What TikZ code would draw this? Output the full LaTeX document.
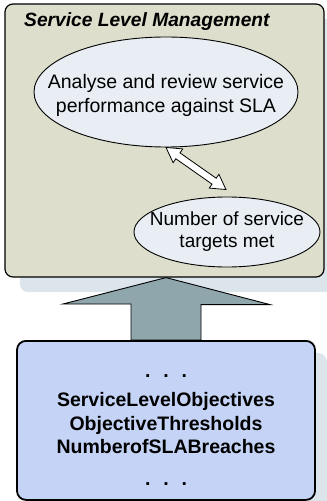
\documentclass[tikz,border=0pt]{standalone}
\usepackage{fontspec}
\setmainfont{Liberation Sans}
\usetikzlibrary{shapes.geometric,shapes.arrows,shadows,calc}

\definecolor{panelfill}{RGB}{222,222,204}
\definecolor{shadowfill}{RGB}{220,228,236}
\definecolor{bubblefill}{RGB}{232,238,244}
\definecolor{sourcefill}{RGB}{197,212,246}
\definecolor{flowfill}{RGB}{143,166,172}

\tikzset{
  panel/.style={draw, line width=1.2bp, rounded corners=8bp, fill=panelfill,
    inner sep=0pt, minimum width=319bp, minimum height=273bp,
    general shadow={fill=shadowfill, shadow xshift=15bp, shadow yshift=-15bp}},
  source/.style={draw, line width=1.8bp, rounded corners=9bp, fill=sourcefill,
    inner sep=0pt, minimum width=298bp, minimum height=159bp,
    general shadow={fill=shadowfill, shadow xshift=12bp, shadow yshift=-12bp}},
  bubble/.style={ellipse, draw, line width=0.9bp, fill=bubblefill, inner sep=0pt},
  bubbletext/.style={align=center, inner sep=0pt,
    font=\fontsize{19.5bp}{24bp}\selectfont},
  smalltext/.style={align=center, inner sep=0pt,
    font=\fontsize{19bp}{22bp}\selectfont},
  heading/.style={inner sep=0pt, font=\fontsize{19.2bp}{22bp}\selectfont\bfseries\itshape},
  fieldtext/.style={inner sep=0pt, font=\fontsize{19.5bp}{23.5bp}\selectfont\bfseries},
  link/.style={double arrow, draw, fill=white, line width=0.8bp,
    inner xsep=0pt, inner ysep=3.2bp, double arrow head extend=4.8bp,
    double arrow tip angle=60},
  flow/.style={draw, line width=0.9bp, fill=flowfill, line join=miter}
}

\begin{document}
\begin{tikzpicture}[x=1bp, y=-1bp]
\useasboundingbox (0,0) rectangle (326,501);

% Service Level Management panel
\node[panel] (slm) at (164.5,140.5) {};
\node[heading, anchor=base west] (ttl) at (24,26.5) {Service Level Management};

% activity and measure
\node[bubble, minimum width=264bp, minimum height=110bp] (ana) at (166,92) {};
\node[bubbletext] (anatxt) at ($(ana.center)+(0,3)$)
  {Analyse and review service\\performance against SLA};
\node[bubble, minimum width=186bp, minimum height=70bp] (tgt) at (227,232) {};
\node[smalltext] (tgttxt) at (tgt.center) {Number of service\\targets met};

% two-way link between the activity and the measure
\coordinate (lnkA) at (ana.south);
\coordinate (lnkB) at ($(tgt.north)+(-1,-7)$);
\path let \p1=($(lnkB)-(lnkA)$), \n1={atan2(\y1,\x1)}, \n2={veclen(\x1,\y1)} in
  ($(lnkA)!0.5!(lnkB)$) node[link, rotate=\n1, minimum height=\n2] (lnk) {};

% block arrow feeding the panel from the data source
\coordinate (srctop) at (166,340);
\draw[flow] (srctop |- slm.south) coordinate (ftip) -- ++(104,27) -- ++(-69,0)
  -- ($(srctop)+(35,0)$) -- ($(srctop)+(-35,0)$) -- ++(0,-36) -- ++(-68,0) -- cycle;

% data source
\node[source, anchor=north] (src) at (srctop) {};
\node[fieldtext, anchor=base] (dotsA) at (166,377.5) {\spaceskip=11bp\relax . . .};
\node[fieldtext, anchor=base] (f1) at (166,406) {ServiceLevelObjectives};
\node[fieldtext, anchor=base] (f2) at (166,430) {ObjectiveThresholds};
\node[fieldtext, anchor=base] (f3) at (166,453.5) {NumberofSLABreaches};
\node[fieldtext, anchor=base] (dotsB) at (166,485.5) {\spaceskip=11bp\relax . . .};
\end{tikzpicture}
\end{document}
